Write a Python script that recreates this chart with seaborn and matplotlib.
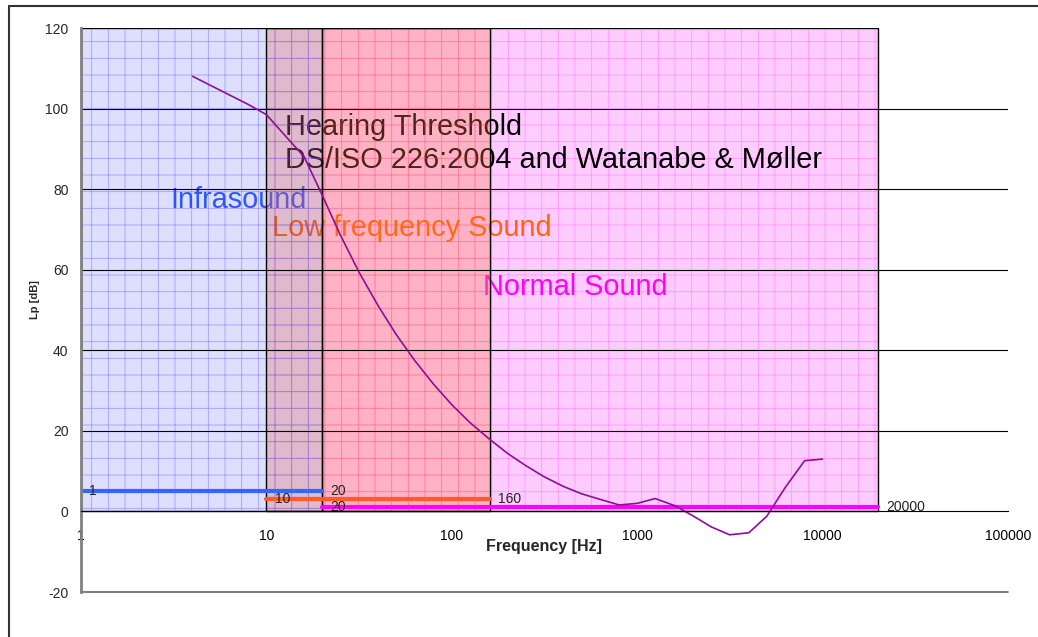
import matplotlib
matplotlib.use("Agg")
import matplotlib.pyplot as plt
from matplotlib.patches import Rectangle
from matplotlib.lines import Line2D
import seaborn as sns
import pandas as pd

# hearing threshold (Watanabe & Moller below 20 Hz, DS/ISO 226:2004 above)
freq = [4, 8, 10, 12.5, 16, 20, 25, 31.5, 40, 50, 63, 80, 100, 125, 160, 200,
        250, 315, 400, 500, 630, 800, 1000, 1250, 1600, 2000, 2500, 3150,
        4000, 5000, 6300, 8000, 10000]
level = [108, 101, 98.5, 93.5, 88, 78.5, 68.7, 59.5, 51.1, 44.0, 37.5, 31.5,
         26.5, 22.1, 17.9, 14.4, 11.4, 8.6, 6.2, 4.4, 3.0, 1.6, 2.0, 3.2, 1.4,
         -1.1, -3.8, -5.8, -5.3, -1.2, 6.0, 12.6, 13.0]

# frequency bands
band_names = ["Infrasound", "Low frequency Sound", "Normal Sound"]
band_lo = [1, 10, 20]
band_hi = [20, 160, 20000]
band_bar_level = [5, 3, 1]
band_colors = ["#3366FF", "#FF5A28", "#FF00FF"]

x_ticks = [1, 10, 100, 1000, 10000, 100000]
x_tick_labels = ["1", "10", "100", "1000", "10000", "100000"]
y_ticks = [-20, 0, 20, 40, 60, 80, 100, 120]
y_tick_labels = ["-20", "0", "20", "40", "60", "80", "100", "120"]

sns.set_style("white")
plt.rcParams["font.family"] = ["Liberation Sans", "DejaVu Sans"]
plt.rcParams["hatch.linewidth"] = 0.6

fig = plt.figure(figsize=(10.38, 6.37), dpi=100)
ax = fig.add_axes([81 / 1038, 1 - 592 / 637, 927 / 1038, 564 / 637])

# shaded band areas: fill, hatch, outline
shade = {
    "Normal Sound": ((1, 0, 1, 0.20), (1, 0.2, 1, 0.35), 0.8),
    "Low frequency Sound": ((1, 0.47, 0.25, 0.30), (1, 0.35, 0.3, 0.35), 1.1),
    "Infrasound": ((0, 0, 1, 0.13), (0.25, 0.25, 1, 0.4), 1.2),
}
for i in [2, 1, 0]:
    fc, hc, z = shade[band_names[i]]
    w = band_hi[i] - band_lo[i]
    ax.add_patch(Rectangle((band_lo[i], 0), w, 120, facecolor=fc, edgecolor="none",
                           lw=0, zorder=z))
    ax.add_patch(Rectangle((band_lo[i], 0), w, 120, facecolor="none", edgecolor=hc,
                           hatch="+", lw=0, zorder=z + 0.01))
    ax.add_patch(Rectangle((band_lo[i], 0), w, 120, facecolor="none",
                           edgecolor="black", lw=1, zorder=2.6))

# texts sit above the magenta band but under the others
ax.text(12.6, 93.5, "Hearing Threshold", fontsize=20.8, color="black", zorder=0.9)
ax.text(12.6, 85.3, "DS/ISO 226:2004 and Watanabe & Møller", fontsize=20.8,
        color="black", zorder=0.9)
ax.text(3.02, 75.3, band_names[0], fontsize=20.8, color=band_colors[0], zorder=0.9)
ax.text(10.7, 68.4, band_names[1], fontsize=20.8, color="#FF6600", zorder=0.9)
ax.text(147, 53.6, band_names[2], fontsize=20.8, color=band_colors[2], zorder=0.9)

# horizontal grid
for y in [20, 40, 60, 80, 100]:
    ax.axhline(y, color="black", lw=0.8, zorder=2.5)
ax.axhline(-20, color="#666666", lw=1.2, zorder=2.5, clip_on=False)

# band range bars with end labels
for i in range(3):
    ax.plot([band_lo[i], band_hi[i]], [band_bar_level[i]] * 2, color=band_colors[i],
            lw=3, solid_capstyle="round", zorder=3)
    for v in [band_lo[i], band_hi[i]]:
        ax.annotate(str(v), (v, band_bar_level[i]), xytext=(6, 0),
                    textcoords="offset points", va="center", ha="left",
                    fontsize=10, color="#222222", zorder=3)

df = pd.DataFrame({"Frequency": freq, "Lp": level})
sns.lineplot(data=df, x="Frequency", y="Lp", color="#8E0E95", lw=1.2, ax=ax,
             zorder=4)

ax.set_xscale("log")
ax.set_xlim(1, 100000)
ax.set_ylim(-20, 120)
ax.set_xticks(x_ticks)
ax.set_xticklabels(x_tick_labels)
ax.minorticks_off()
ax.set_yticks(y_ticks)
ax.set_yticklabels(y_tick_labels)
ax.tick_params(axis="x", direction="out", length=4, width=1, pad=9,
               labelsize=10, colors="black")
ax.tick_params(axis="y", length=0, pad=9, labelsize=10)

ax.spines["top"].set_visible(False)
ax.spines["right"].set_visible(False)
ax.spines["bottom"].set_position(("data", 0))
ax.spines["bottom"].set_color("black")
ax.spines["bottom"].set_zorder(5)
ax.spines["left"].set_color("#808080")
ax.spines["left"].set_linewidth(2)
ax.spines["left"].set_zorder(5)

ax.set_xlabel("Frequency [Hz]", fontsize=11.5, fontweight="bold", labelpad=-3)
ax.set_ylabel("Lp [dB]", fontsize=8, fontweight="bold")
ax.yaxis.set_label_coords(-0.044, 0.518)

# chart-area border (runs off the right and bottom of the image)
bx, by = 9 / 1038, 1 - 6 / 637
fig.add_artist(Line2D([bx, bx], [by, -0.05], color="#333333", lw=1.5,
                      transform=fig.transFigure))
fig.add_artist(Line2D([bx, 1.05], [by, by], color="#333333", lw=1.5,
                      transform=fig.transFigure))

fig.savefig("out.png", dpi=100)
